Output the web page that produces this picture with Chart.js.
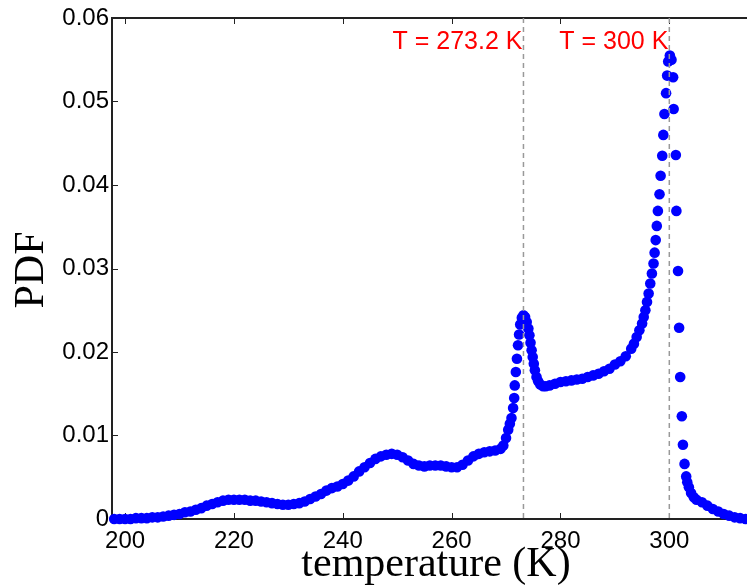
<!DOCTYPE html>
<html>
<head>
<meta charset="utf-8">
<script src="https://cdn.jsdelivr.net/npm/chart.js@4"></script>
<style>
  html, body { margin: 0; padding: 0; background: #fff; }
  canvas { display: block; }
</style>
</head>
<body>
<canvas id="chart" width="747" height="586"></canvas>
<script>
// temperature (K) and PDF
var temperature = [
  198, 199, 200, 201, 202, 203, 204, 205, 206, 207, 208, 209, 210,
  211, 212, 213, 214, 215, 216, 217, 218, 219, 220, 221, 222, 223,
  224, 225, 226, 227, 228, 229, 230, 231, 232, 233, 234, 235, 236,
  237, 238, 239, 240, 241, 242, 243, 244, 245, 246, 247, 248, 249,
  250, 251, 252, 253, 254, 255, 256, 257, 258, 259, 260, 261, 262,
  263, 264, 265, 266, 267, 268, 269, 269.5, 270, 270.4, 270.7, 271.0,
  271.3, 271.5, 271.6, 271.8, 272.0, 272.2, 272.4, 272.6, 272.9, 273.2,
  273.5, 273.8, 274.1, 274.3, 274.5, 274.7, 274.9, 275.1, 275.3, 275.6,
  275.9, 276.3, 276.8, 277.3, 278, 279, 280, 281, 282, 283, 284, 285,
  286, 287, 288, 289, 290, 291, 292, 293, 293.5, 294, 294.5, 295, 295.3,
  295.6, 295.9, 296.2, 296.5, 296.8, 297.1, 297.3, 297.5, 297.7, 297.9,
  298.2, 298.4, 298.7, 298.9, 299.1, 299.4, 299.6, 299.8, 300.1, 300.4,
  300.7, 300.8, 301.2, 301.3, 301.6, 301.8, 302.0, 302.3, 302.5, 302.8,
  303.1, 303.3, 303.6, 304, 304.5, 305, 306, 307, 308, 309, 310, 311,
  312, 313, 314, 315
];
var pdf = [
  0.0000, 0.0000, 0.0000, 0.0000, 0.0001, 0.0001, 0.0001, 0.0002, 0.0002, 0.0003, 0.0004, 0.0005, 0.0006,
  0.0008, 0.0009, 0.0011, 0.0013, 0.0016, 0.0018, 0.0020, 0.0022, 0.0023, 0.0023, 0.0023, 0.0023, 0.0022,
  0.0022, 0.0021, 0.0020, 0.0019, 0.0018, 0.0017, 0.0017, 0.0018, 0.0019, 0.0021, 0.0024, 0.0027, 0.0030,
  0.0034, 0.0037, 0.0039, 0.0042, 0.0046, 0.0051, 0.0057, 0.0062, 0.0067, 0.0072, 0.0075, 0.0077, 0.0078,
  0.0077, 0.0074, 0.0070, 0.0066, 0.0064, 0.0063, 0.0064, 0.0064, 0.0064, 0.0063, 0.0062, 0.0062, 0.0065,
  0.0070, 0.0075, 0.0078, 0.0080, 0.0081, 0.0082, 0.0084, 0.0088, 0.0097, 0.0107, 0.0114, 0.0121,
  0.0133, 0.0145, 0.0160, 0.0176, 0.0192, 0.0208, 0.0221, 0.0233, 0.0241, 0.0244,
  0.0242, 0.0236, 0.0228, 0.0220, 0.0211, 0.0202, 0.0194, 0.0186, 0.0178, 0.0170,
  0.0165, 0.0161, 0.0159, 0.0159, 0.0160, 0.0162, 0.0164, 0.0165, 0.0166, 0.0167, 0.0168, 0.0170,
  0.0172, 0.0174, 0.0177, 0.0180, 0.0185, 0.0189, 0.0195, 0.0204, 0.0210, 0.0218, 0.0226, 0.0234, 0.0242,
  0.0250, 0.0260, 0.0270, 0.0282, 0.0294, 0.0306, 0.0319, 0.0334, 0.0351, 0.0369,
  0.0389, 0.0411, 0.0435, 0.0460, 0.0485, 0.0510, 0.0531, 0.0548, 0.0555, 0.0550,
  0.0529, 0.0491, 0.0436, 0.0369, 0.0297, 0.0229, 0.0170, 0.0123, 0.0089, 0.0066,
  0.0051, 0.0044, 0.0038, 0.0031, 0.0026, 0.0023, 0.0020, 0.0016, 0.0012, 0.0009, 0.0006, 0.0004,
  0.0002, 0.0001, 0.0000, 0.0000
];
var xTicks = [200, 220, 240, 260, 280, 300];
var yTicks = [0, 0.01, 0.02, 0.03, 0.04, 0.05, 0.06];
var markers = [273.2, 300];
var markerLabels = ['T = 273.2 K', 'T = 300 K'];
var xTitle = 'temperature (K)';
var yTitle = 'PDF';

var points = temperature.map(function(t, i) { return {x: t, y: pdf[i]}; });

// box, inward ticks, axis titles, dashed markers and their labels
var framePlugin = {
  id: 'frame',
  beforeDatasetsDraw: function(chart) {
    var ctx = chart.ctx, a = chart.chartArea;
    var xs = chart.scales.x, ys = chart.scales.y;
    var edge = chart.width;
    ctx.save();
    ctx.strokeStyle = '#222';
    ctx.lineWidth = 2;
    ctx.beginPath();
    ctx.moveTo(edge, a.top);
    ctx.lineTo(a.left, a.top);
    ctx.lineTo(a.left, a.bottom);
    ctx.lineTo(edge, a.bottom);
    ctx.stroke();
    ctx.lineWidth = 1;
    ctx.beginPath();
    xTicks.forEach(function(v) {
      var px = Math.round(xs.getPixelForValue(v)) + 0.5;
      ctx.moveTo(px, a.bottom); ctx.lineTo(px, a.bottom - 6);
      ctx.moveTo(px, a.top); ctx.lineTo(px, a.top + 6);
    });
    yTicks.forEach(function(v) {
      var py = Math.round(ys.getPixelForValue(v)) + 0.5;
      ctx.moveTo(a.left, py); ctx.lineTo(a.left + 6, py);
    });
    ctx.stroke();

    ctx.fillStyle = '#000';
    ctx.font = '42px "Liberation Serif", "Times New Roman", serif';
    ctx.textAlign = 'center';
    ctx.textBaseline = 'alphabetic';
    ctx.fillText(xTitle, 436, 576);
    ctx.translate(43, 270);
    ctx.rotate(-Math.PI / 2);
    ctx.fillText(yTitle, 0, 0);
    ctx.restore();
  },
  afterDatasetsDraw: function(chart) {
    var ctx = chart.ctx, a = chart.chartArea;
    var xs = chart.scales.x;
    ctx.save();
    ctx.strokeStyle = '#999';
    ctx.lineWidth = 1.5;
    ctx.setLineDash([5, 4]);
    markers.forEach(function(v) {
      var px = xs.getPixelForValue(v);
      ctx.beginPath();
      ctx.moveTo(px, a.top);
      ctx.lineTo(px, a.bottom);
      ctx.stroke();
    });
    ctx.setLineDash([]);
    ctx.fillStyle = '#ff0000';
    ctx.font = '25px "Liberation Sans", Arial, sans-serif';
    ctx.textAlign = 'right';
    ctx.textBaseline = 'alphabetic';
    markers.forEach(function(v, i) {
      ctx.fillText(markerLabels[i], xs.getPixelForValue(v) - 1, a.top + 31);
    });
    ctx.restore();
  }
};

var config = {
  type: 'scatter',
  data: {
    datasets: [{
      data: points,
      backgroundColor: '#0000ff',
      borderWidth: 0,
      pointRadius: 5.3,
      pointHoverRadius: 5.3,
      clip: false
    }]
  },
  options: {
    responsive: false,
    animation: false,
    layout: { padding: { top: 18, right: 0, left: 0, bottom: 0 } },
    plugins: {
      legend: { display: false },
      tooltip: { enabled: false }
    },
    scales: {
      x: {
        type: 'linear',
        min: 197.6,
        max: 313.3,
        grid: { display: false, drawTicks: false },
        border: { display: false },
        afterFit: function(s) { s.height = 67; },
        afterBuildTicks: function(s) { s.ticks = xTicks.map(function(v) { return {value: v}; }); },
        ticks: {
          color: '#000',
          padding: 8,
          maxRotation: 0,
          autoSkip: false,
          font: { family: '"Liberation Sans", Arial, sans-serif', size: 24 }
        }
      },
      y: {
        type: 'linear',
        min: 0,
        max: 0.06,
        grid: { display: false, drawTicks: false },
        border: { display: false },
        afterFit: function(s) { s.width = 112; },
        afterBuildTicks: function(s) { s.ticks = yTicks.map(function(v) { return {value: v}; }); },
        ticks: {
          color: '#000',
          padding: 3,
          autoSkip: false,
          font: { family: '"Liberation Sans", Arial, sans-serif', size: 24 },
          callback: function(v) { return v === 0 ? '0' : v.toFixed(2); }
        }
      }
    }
  },
  plugins: [framePlugin]
};

window.onload = function() {
  var ctx = document.getElementById('chart').getContext('2d');
  window.myChart = new Chart(ctx, config);
};
</script>
</body>
</html>
